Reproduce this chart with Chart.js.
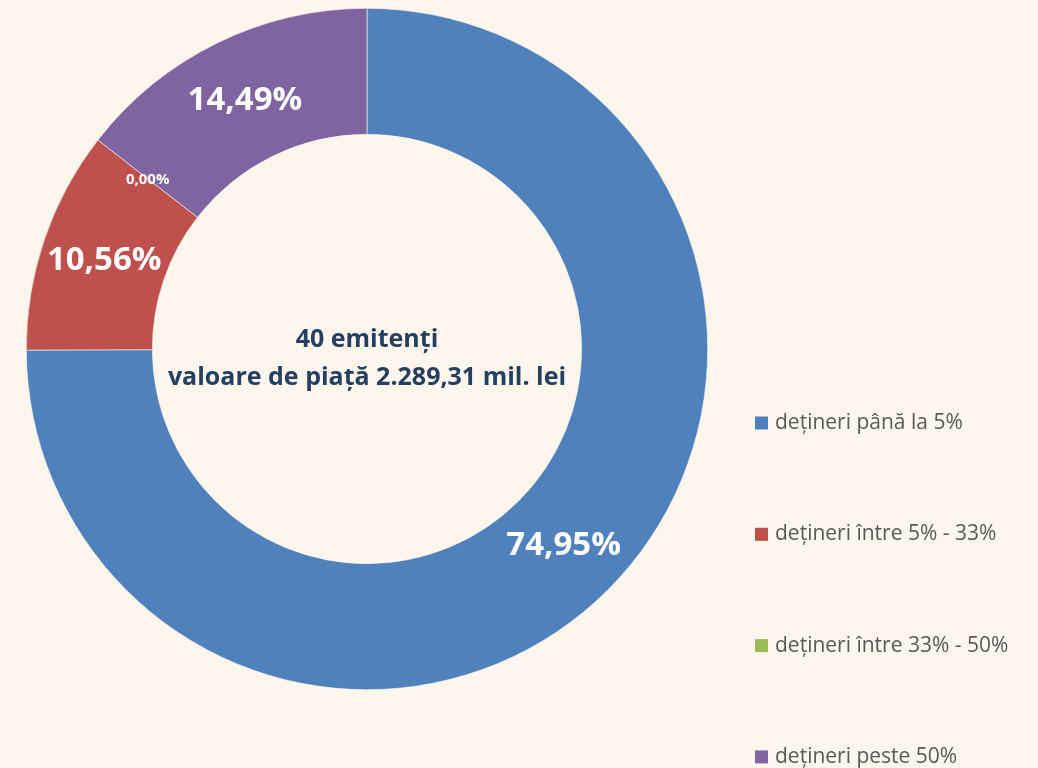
<!DOCTYPE html>
<html lang="ro">
  <head>
    <meta charset="UTF-8" />
    <title>structura detinerilor</title>
    <script src="https://cdn.jsdelivr.net/npm/chart.js@4.4.1/dist/chart.umd.min.js"></script>
    <style>
      html, body { margin: 0; padding: 0; background: #fdf6ed; }
      #wrap { width: 1038px; height: 768px; position: relative; }
    </style>
  </head>
  <body>
    <div id="wrap"><canvas id="myChart" width="1038" height="768"></canvas></div>

    <script>
      // data
      const categories = ['dețineri până la 5%', 'dețineri între 5% - 33%', 'dețineri între 33% - 50%', 'dețineri peste 50%'];
      const shares = [74.95, 10.56, 0.00, 14.49];
      const colors = ['#4f81bd', '#c0504d', '#9bbb59', '#8064a2'];
      const centerLines = ['40 emitenți', 'valoare de piață 2.289,31 mil. lei'];

      const fmt = v => v.toFixed(2).replace('.', ',') + '%';
      const FONT = '"Open Sans", sans-serif';

      // percent labels on the ring + text in the hole
      const labelsPlugin = {
        id: 'ringLabels',
        afterDatasetsDraw(chart) {
          const c = chart.ctx;
          const meta = chart.getDatasetMeta(0);
          c.save();
          c.textAlign = 'center';
          c.textBaseline = 'middle';
          c.fillStyle = '#ffffff';
          meta.data.forEach((arc, i) => {
            const p = arc.tooltipPosition();
            const v = shares[i];
            c.font = (v > 1 ? 'bold 33px ' : 'bold 15px ') + FONT;
            c.fillText(fmt(v), p.x, p.y + 1);
          });
          const a = meta.data[0];
          c.fillStyle = '#243f60';
          c.font = 'bold 25px ' + FONT;
          c.fillText(centerLines[0], a.x, a.y - 9);
          c.fillText(centerLines[1], a.x, a.y + 29);
          c.restore();
        }
      };

      // legend drawn by hand, spread down the right side like the original
      const sideLegend = {
        id: 'sideLegend',
        afterDraw(chart) {
          const c = chart.ctx;
          c.save();
          c.textBaseline = 'middle';
          c.textAlign = 'left';
          c.font = '21px ' + FONT;
          categories.forEach((lab, i) => {
            const y = 423 + i * 111.3;
            c.fillStyle = colors[i];
            c.fillRect(755, y - 6.5, 13, 13);
            c.fillStyle = '#595959';
            c.fillText(lab, 775, y);
          });
          c.restore();
        }
      };

      const ctx = document.getElementById('myChart');
      const myChart = new Chart(ctx, {
        type: 'doughnut',
        data: {
          labels: categories,
          datasets: [{
            data: shares,
            backgroundColor: colors,
            borderColor: '#fdf6ed',
            borderWidth: 0.6
          }]
        },
        options: {
          responsive: false,
          animation: false,
          cutout: '63%',
          layout: { padding: { left: 26, right: 330, top: 8, bottom: 78 } },
          plugins: {
            legend: { display: false },
            tooltip: { enabled: false }
          }
        },
        plugins: [labelsPlugin, sideLegend]
      });
    </script>
  </body>
</html>
